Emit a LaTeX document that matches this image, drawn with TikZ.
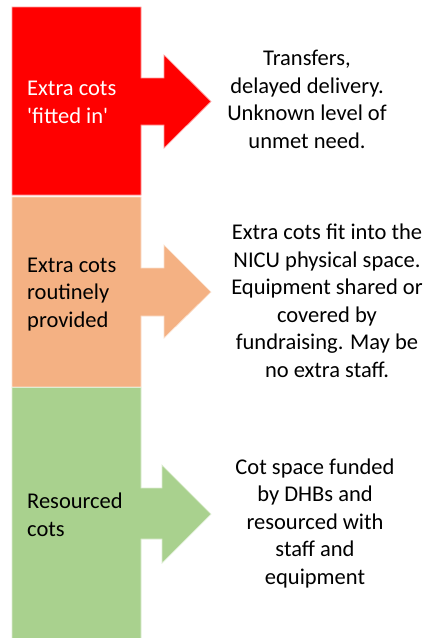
\documentclass[tikz,border=0pt]{standalone}
\usepackage{fontspec}
\setmainfont{Carlito}
\definecolor{cotred}{RGB}{255,0,0}
\definecolor{cotorange}{RGB}{244,177,131}
\definecolor{cotgreen}{RGB}{169,209,142}
\begin{document}
\begin{tikzpicture}[x=1pt,y=-1pt,
  band/.style={fill=#1, draw=white!60!#1, line width=0.7pt},
  lbl/.style={inner sep=0pt, align=left, anchor=base west,
    font=\fontsize{22.5}{27.5}\selectfont},
  note/.style={inner sep=0pt, align=center, anchor=base,
    font=\fontsize{22.5}{27.5}\selectfont}]
\useasboundingbox[fill=white] (0,0) rectangle (430,638);
\clip (0,0) rectangle (430,638);

% stacked bands, each with an arrow pointing to its description
\path[band=cotred] (12,7) -- (141,7) -- (141,78) -- (164,78) -- (164,55)
  -- (211,101.5) -- (164,148) -- (164,125) -- (141,125) -- (141,195)
  -- (12,195) -- cycle;
\path[band=cotorange] (12,197) -- (141,197) -- (141,268) -- (164,268)
  -- (164,245) -- (211,292) -- (164,338) -- (164,316) -- (141,316)
  -- (141,387) -- (12,387) -- cycle;
\path[band=cotgreen] (12,387.5) -- (141,387.5) -- (141,488) -- (162,488)
  -- (162,465) -- (211,514) -- (162,563) -- (162,539) -- (141,539)
  -- (141,648) -- (12,648) -- cycle;

% band labels (anchored at the baseline of the last line)
\node[lbl, text=white] (fitted) at (27,123)
  {Extra cots\\\textquotesingle fitted in\textquotesingle};
\node[lbl] (routine) at (27,327) {Extra cots\\routinely\\provided};
\node[lbl] (resourced) at (27,536) {Resourced\\cots};

% descriptions (anchored at the baseline of the last line)
\node[note] (fittedtxt) at (307,148)
  {Transfers,\\delayed delivery.\\Unknown level of\\unmet need.};
\node[note] (routinetxt) at (327,377)
  {Extra cots fit into the\\NICU physical space.\\Equipment shared or\\covered by\\fundraising. May be\\no extra staff.};
\node[note] (resourcedtxt) at (315,584)
  {Cot space funded\\by DHBs and\\resourced with\\staff and\\equipment};
\end{tikzpicture}
\end{document}
